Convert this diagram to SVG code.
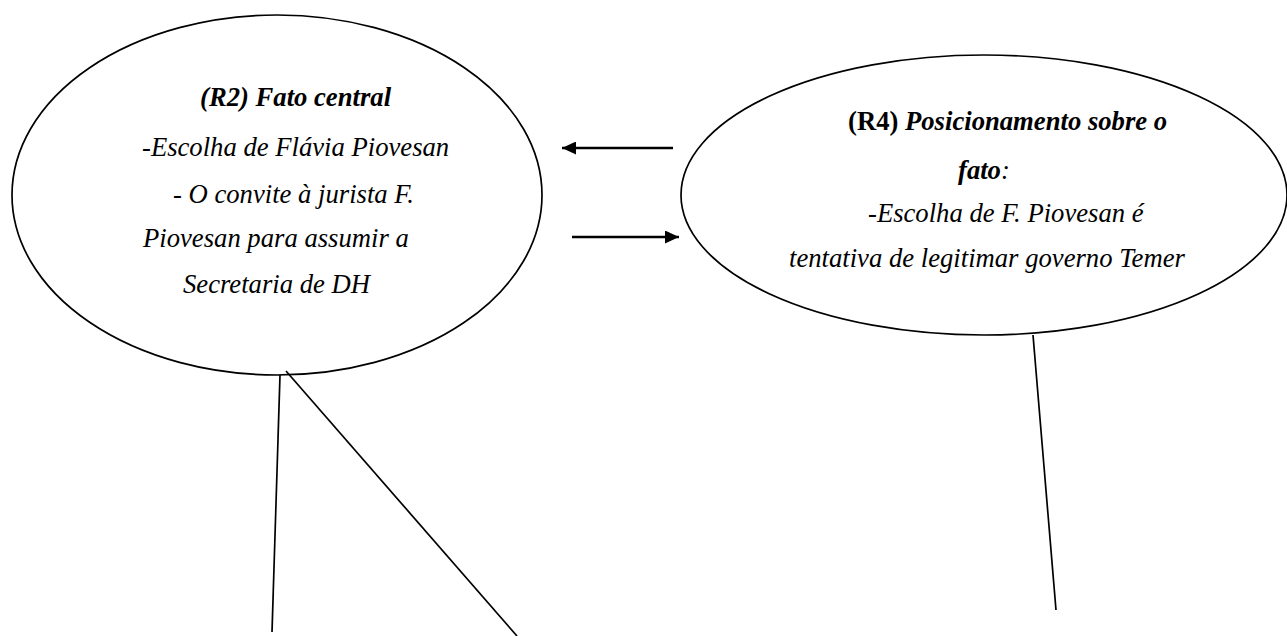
<svg xmlns="http://www.w3.org/2000/svg" width="1287" height="636" viewBox="0 0 1287 636">
<style>
.node{fill:none;stroke:#000;stroke-width:1.7}
.t{font-family:"Liberation Serif","Times New Roman",serif;font-size:26.67px;font-style:italic;fill:#000}
.b{font-weight:bold}
.n{font-style:normal}
.link{stroke:#000;stroke-width:1.7;fill:none}
.arr{stroke:#000;stroke-width:2.5;fill:none}
</style>
<defs>
<marker id="ah" viewBox="0 0 14 13" refX="14" refY="6.5" markerWidth="14" markerHeight="13" orient="auto" markerUnits="userSpaceOnUse">
<path d="M0,0 L14,6.5 L0,13 z" fill="#000"/>
</marker>
</defs>
<rect width="1287" height="636" fill="#fff"/>
<g id="connectors">
<line class="arr" x1="673" y1="148" x2="562" y2="148" marker-end="url(#ah)"/>
<line class="arr" x1="572" y1="237" x2="679" y2="237" marker-end="url(#ah)"/>
<line class="link" x1="280" y1="375" x2="272" y2="632"/>
<line class="link" x1="286" y1="371" x2="517" y2="636"/>
<line class="link" x1="1033" y1="335" x2="1056" y2="610"/>
</g>
<g id="node-r2">
<ellipse class="node" cx="277" cy="195" rx="265" ry="180"/>
<text class="t b" x="200" y="106">(R2) Fato central</text>
<text class="t" x="142" y="156">-Escolha de Flávia Piovesan</text>
<text class="t" x="173" y="203">- O convite à jurista F.</text>
<text class="t" x="143" y="247">Piovesan para assumir a</text>
<text class="t" x="183" y="293">Secretaria de DH</text>
</g>
<g id="node-r4">
<ellipse class="node" cx="984" cy="195" rx="303" ry="140"/>
<text class="t b" x="848" y="130"><tspan class="n">(R4)</tspan> Posicionamento sobre o</text>
<text class="t" x="958" y="179"><tspan class="b">fato</tspan>:</text>
<text class="t" x="868" y="222">-Escolha de F. Piovesan é</text>
<text class="t" x="789" y="267">tentativa de legitimar governo Temer</text>
</g>
</svg>
